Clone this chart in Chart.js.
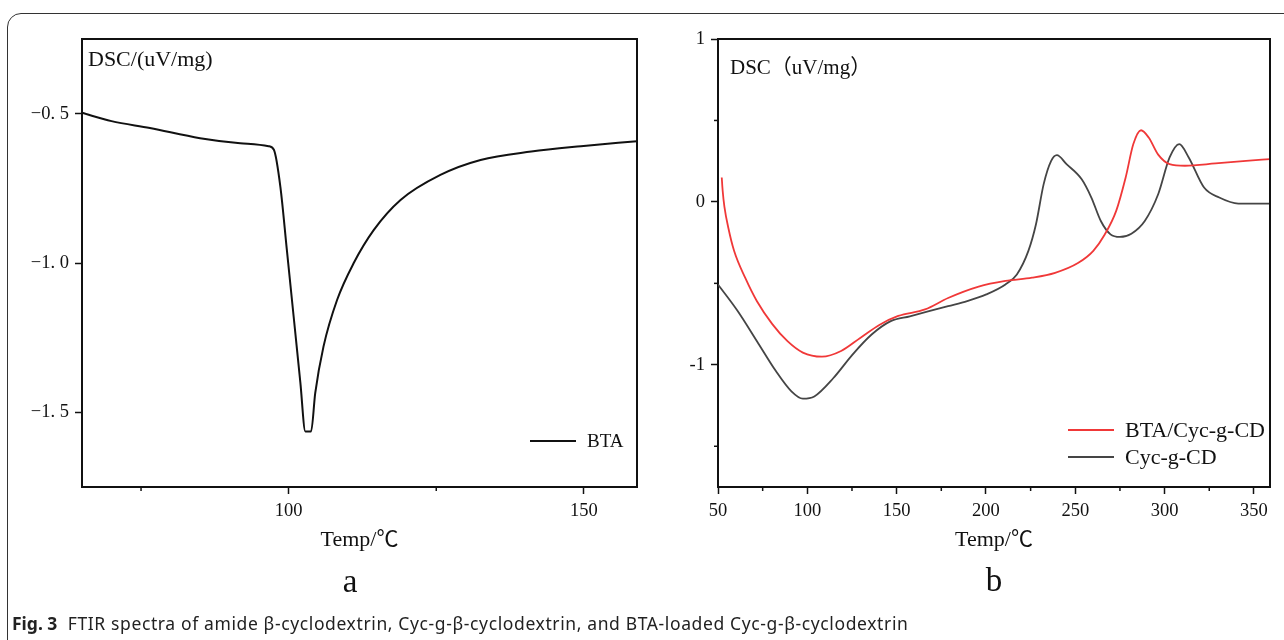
<!DOCTYPE html>
<html><head><meta charset="utf-8">
<script src="https://cdn.jsdelivr.net/npm/chart.js@4.4.1/dist/chart.umd.min.js"></script>
<style>
html,body{margin:0;padding:0;background:#fff;width:1284px;height:640px;overflow:hidden;}
#frame{position:absolute;left:7px;top:13px;width:1320px;height:700px;border:1.5px solid #333;border-radius:14px;box-sizing:border-box;}
.cv{position:absolute;top:0;}
#wa{left:0;width:640px;height:640px;}
#wb{left:640px;width:644px;height:640px;}
.lab{position:absolute;width:40px;text-align:center;font-family:"Liberation Serif",serif;font-size:33px;line-height:32px;color:#111;}
#cap{position:absolute;left:12px;top:612px;font-family:"Noto Sans",sans-serif;font-size:17.5px;letter-spacing:0.62px;line-height:22px;white-space:nowrap;color:#222;}
#cap b{letter-spacing:0;}
</style></head>
<body>
<div id="frame"></div>
<div class="cv" id="wa"><canvas id="ca" width="640" height="640"></canvas></div>
<div class="cv" id="wb"><canvas id="cb" width="644" height="640"></canvas></div>
<div class="lab" style="left:330px;top:565px;">a</div>
<div class="lab" style="left:974px;top:564px;">b</div>
<div id="cap"><b>Fig. 3</b>&nbsp; FTIR spectra of amide β-cyclodextrin, Cyc-g-β-cyclodextrin, and BTA-loaded Cyc-g-β-cyclodextrin</div>
<script>
// ---------- data ----------
// Panel a: BTA
const btaTemp = [65, 70, 76.5, 85, 91.8, 96.6, 97.5, 98.6, 99.7, 100.85, 101.98, 102.83, 103.8, 104.5, 105.9, 108.2, 111.0, 114.4, 118.95, 125.7, 132.5, 141.1, 149.5, 159];
const btaDsc  = [-0.497, -0.525, -0.548, -0.582, -0.599, -0.609, -0.621, -0.745, -0.957, -1.18, -1.40, -1.564, -1.564, -1.436, -1.28, -1.124, -1.001, -0.890, -0.789, -0.705, -0.655, -0.627, -0.609, -0.592];
// Panel b: BTA/Cyc-g-CD
const loadedTemp = [52.1, 52.6, 53.6, 55.8, 59.0, 65.4, 71.8, 80.4, 88.9, 97.5, 108.2, 118.9, 129.6, 140.3, 150.9, 165.9, 178.8, 195.9, 210.9, 225.8, 238.7, 251.5, 260.1, 266.5, 272.9, 278.2, 282.5, 286.8, 291.1, 296.4, 302.8, 311.4, 328.5, 345.6, 359];
const loadedDsc  = [0.15, 0.07, -0.03, -0.16, -0.30, -0.47, -0.61, -0.75, -0.855, -0.925, -0.95, -0.915, -0.835, -0.755, -0.70, -0.66, -0.59, -0.52, -0.485, -0.465, -0.435, -0.375, -0.30, -0.20, -0.055, 0.15, 0.355, 0.44, 0.395, 0.29, 0.232, 0.222, 0.236, 0.252, 0.263];
// Panel b: Cyc-g-CD
const cycTemp = [50, 61.1, 71.8, 82.5, 91.1, 97.5, 103.9, 114.6, 125.3, 136.0, 146.7, 157.4, 168.1, 178.8, 189.5, 200.2, 210.9, 217.3, 223.7, 228.0, 232.3, 236.5, 239.7, 245.1, 253.6, 259.0, 264.3, 269.7, 275.0, 281.4, 288.9, 296.4, 302.8, 308.2, 313.5, 322.1, 330.6, 341.3, 359];
const cycDsc  = [-0.507, -0.671, -0.855, -1.04, -1.163, -1.208, -1.194, -1.081, -0.937, -0.814, -0.732, -0.702, -0.671, -0.64, -0.609, -0.568, -0.507, -0.445, -0.302, -0.137, 0.109, 0.252, 0.287, 0.232, 0.139, 0.027, -0.117, -0.199, -0.215, -0.195, -0.117, 0.047, 0.273, 0.355, 0.273, 0.088, 0.027, -0.010, -0.010];

// tick values and labels
const aXTicks = [100, 150];
const aXMinor = [75, 125];
const aYTicks = [-0.5, -1.0, -1.5];
const aYLabels = ['−0. 5', '−1. 0', '−1. 5'];
const bXTicks = [50, 100, 150, 200, 250, 300, 350];
const bXMinor = [75, 125, 175, 225, 275, 325];
const bYTicks = [1, 0, -1];
const bYLabels = ['1', '0', '-1'];
const bYMinor = [0.5, -0.5, -1.5];

const labelA = 'BTA';
const labelLoaded = 'BTA/Cyc-g-CD';
const labelCyc = 'Cyc-g-CD';
const yTitleA = 'DSC/(uV/mg)';
const yTitleB = 'DSC（uV/mg）';
const xTitle = 'Temp/℃';

// ---------- drawing ----------
const serif = '"Liberation Serif", "Noto Sans CJK SC", serif';
const ink = '#111';
const pts = (xs, ys) => xs.map((t, i) => ({x: t, y: ys[i]}));

const decor = {
  id: 'dscDecor',
  afterDraw(chart, args, o) {
    const {ctx, chartArea: a} = chart;
    const sx = chart.scales.x, sy = chart.scales.y;
    ctx.save();
    ctx.strokeStyle = ink; ctx.lineWidth = 2;
    ctx.beginPath(); ctx.moveTo(a.left, a.top); ctx.lineTo(a.right, a.top); ctx.lineTo(a.right, a.bottom); ctx.stroke();
    ctx.lineWidth = 1.5;
    (o.minorX || []).forEach(v => { const p = sx.getPixelForValue(v); ctx.beginPath(); ctx.moveTo(p, a.bottom); ctx.lineTo(p, a.bottom + 4); ctx.stroke(); });
    (o.minorY || []).forEach(v => { const p = sy.getPixelForValue(v); ctx.beginPath(); ctx.moveTo(a.left, p); ctx.lineTo(a.left - 4, p); ctx.stroke(); });
    ctx.fillStyle = ink; ctx.textBaseline = 'middle'; ctx.textAlign = 'left';
    ctx.font = o.titleFont;
    ctx.fillText(o.title, a.left + o.titleDx, a.top + o.titleDy);
    ctx.font = o.legFont;
    chart.data.datasets.forEach((ds, i) => {
      const y = a.bottom - o.legBottom + i * o.legGap;
      ctx.strokeStyle = ds.borderColor; ctx.lineWidth = 2;
      ctx.beginPath(); ctx.moveTo(a.right - o.legL0, y); ctx.lineTo(a.right - o.legL1, y); ctx.stroke();
      ctx.fillStyle = ink;
      ctx.fillText(ds.label, a.right - o.legText, y + 1);
    });
    ctx.restore();
  }
};

function axisX(min, max, ticks) {
  return {
    type: 'linear', min, max,
    afterBuildTicks: s => { s.ticks = ticks.map(v => ({value: v})); },
    afterFit: s => { s.height = 68; },
    grid: {drawOnChartArea: false, tickLength: 7, tickWidth: 1.5, tickColor: ink},
    border: {color: ink, width: 2},
    ticks: {font: {family: serif, size: 18.5}, color: ink, padding: 6, maxRotation: 0, autoSkip: false},
    title: {display: true, text: xTitle, font: {family: serif, size: 22}, color: ink, padding: {top: 0, bottom: 2}}
  };
}
function axisY(min, max, ticks, labels, width) {
  return {
    type: 'linear', min, max,
    afterBuildTicks: s => { s.ticks = ticks.map(v => ({value: v})); },
    afterFit: s => { s.width = width; },
    grid: {drawOnChartArea: false, tickLength: 7, tickWidth: 1.5, tickColor: ink},
    border: {color: ink, width: 2},
    ticks: {font: {family: serif, size: 18.5}, color: ink, padding: 6, autoSkip: false,
            callback: v => labels[ticks.indexOf(v)]}
  };
}

new Chart(document.getElementById('ca'), {
  type: 'line',
  data: {datasets: [
    {label: labelA, data: pts(btaTemp, btaDsc), borderColor: '#111', borderWidth: 2, pointRadius: 0, cubicInterpolationMode: 'monotone', fill: false}
  ]},
  options: {
    responsive: false, animation: false, events: [],
    layout: {padding: {left: 0, right: 3, top: 39, bottom: 85}},
    plugins: {legend: {display: false}, tooltip: {enabled: false},
      dscDecor: {minorX: aXMinor, minorY: [], title: yTitleA, titleFont: '22px ' + serif, titleDx: 6, titleDy: 21,
                 legFont: '19px ' + serif, legBottom: 46, legGap: 27, legL0: 107, legL1: 61, legText: 50}},
    scales: {x: axisX(65, 159, aXTicks), y: axisY(-1.75, -0.25, aYTicks, aYLabels, 82)}
  },
  plugins: [decor]
});

new Chart(document.getElementById('cb'), {
  type: 'line',
  data: {datasets: [
    {label: labelLoaded, data: pts(loadedTemp, loadedDsc), borderColor: '#f03838', borderWidth: 1.8, pointRadius: 0, cubicInterpolationMode: 'monotone', fill: false},
    {label: labelCyc, data: pts(cycTemp, cycDsc), borderColor: '#454545', borderWidth: 1.8, pointRadius: 0, cubicInterpolationMode: 'monotone', fill: false}
  ]},
  options: {
    responsive: false, animation: false, events: [],
    layout: {padding: {left: 0, right: 14, top: 39, bottom: 85}},
    plugins: {legend: {display: false}, tooltip: {enabled: false},
      dscDecor: {minorX: bXMinor, minorY: bYMinor, title: yTitleB, titleFont: '21px ' + serif, titleDx: 12, titleDy: 29,
                 legFont: '22px ' + serif, legBottom: 57, legGap: 27, legL0: 202, legL1: 156, legText: 145}},
    scales: {x: axisX(50, 359, bXTicks), y: axisY(-1.75, 1, bYTicks, bYLabels, 78)}
  },
  plugins: [decor]
});
</script>
</body></html>
